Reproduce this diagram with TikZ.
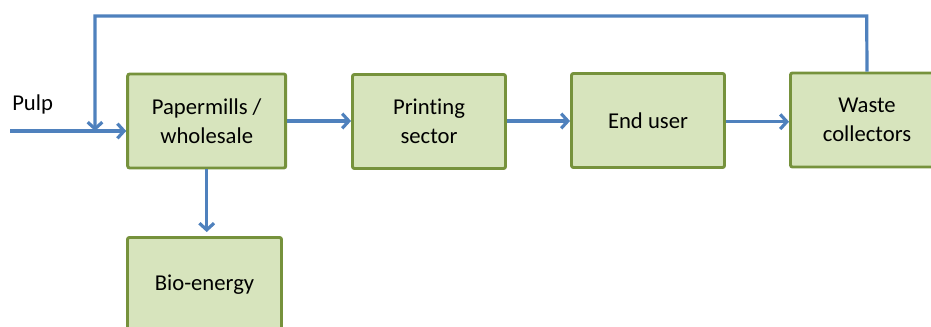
\documentclass[tikz,border=0pt]{standalone}
\usepackage{fontspec}
\setmainfont{Carlito}[Ligatures=NoCommon]
\usepackage{tikz}
\usetikzlibrary{arrows.meta}
\definecolor{boxfill}{RGB}{215,228,189}
\definecolor{boxline}{RGB}{118,146,60}
\definecolor{flowblue}{RGB}{79,129,189}
\tikzset{
  flowbox/.style={fill=boxfill, draw=boxline, line width=2.2pt, rounded corners=1.5pt,
    minimum width=#1*0.75pt, minimum height=70.5pt, align=center, inner sep=0pt,
    font=\fontsize{17}{21.5}\selectfont},
  flowbox/.default=153,
  flow/.style={draw=flowblue, line width=2.4pt, -{Straight Barb[length=5pt,width=11pt,line width=2.4pt]}}
}
\newcommand\stagebox[5]{\node[flowbox=#4] (#1) at (#2,#3) {#5};}

\begin{document}
\begin{tikzpicture}[x=0.75pt, y=-0.75pt]
\useasboundingbox (0,0) rectangle (931,327);
\stagebox{mill}{206.7}{121}{158}{Papermills /\\wholesale}
\stagebox{print}{429}{121.5}{153}{Printing\\sector}
\stagebox{user}{648}{120.5}{153}{End user}
\stagebox{waste}{867}{120}{153}{Waste\\collectors}
\stagebox{bio}{204.5}{284.5}{154}{Bio-energy}

% pulp input and feedback loop
\coordinate (pulpin) at (10,131);
\coordinate (loopin) at (95,131);
\node[anchor=south west, inner sep=0pt, font=\fontsize{17}{20}\selectfont] (pulp) at (12,114) {Pulp};
\draw[flow] (pulpin) -- (pulpin -| mill.west);
\draw[flow] (waste.north) -- (866.7,16) -- (95,16) -- (loopin);

% paper flows
\draw[flow] (mill.east |- 0,121) -- (print.west |- 0,121);
\draw[flow] (print.east |- 0,121) -- (user.west |- 0,121);
\draw[flow] (user.east |- 0,121.7) -- (waste.west |- 0,121.7);
\draw[flow, shorten >=3pt] (mill.south) -- (mill.south |- bio.north);
\end{tikzpicture}
\end{document}
